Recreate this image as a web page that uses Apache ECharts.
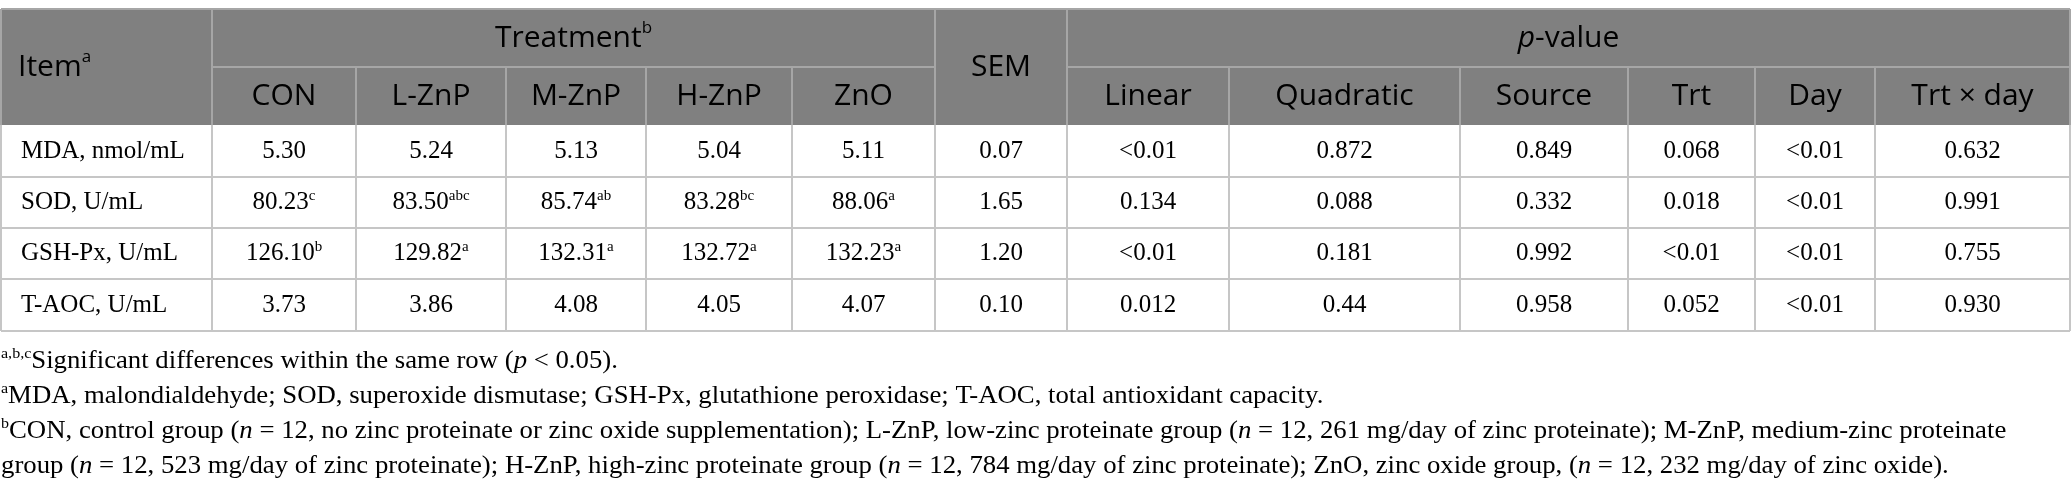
<!DOCTYPE html>
<html>
<head>
<meta charset="utf-8">
<title>Antioxidant indices table</title>
<script src="https://cdn.jsdelivr.net/npm/echarts@6/dist/echarts.min.js"></script>
<style>
  html, body { margin: 0; padding: 0; background: #fff; }
  #chart { width: 2071px; height: 500px; }
</style>
</head>
<body>
<div id="chart"></div>
<script>
// table content
const items = ['MDA, nmol/mL', 'SOD, U/mL', 'GSH-Px, U/mL', 'T-AOC, U/mL']
const treatments = ['CON', 'L-ZnP', 'M-ZnP', 'H-ZnP', 'ZnO']
const pHeaders = ['Linear', 'Quadratic', 'Source', 'Trt', 'Day', 'Trt × day']

const mdaValues = ['5.30', '5.24', '5.13', '5.04', '5.11']
const sodValues = ['80.23', '83.50', '85.74', '83.28', '88.06']
const gshValues = ['126.10', '129.82', '132.31', '132.72', '132.23']
const taocValues = ['3.73', '3.86', '4.08', '4.05', '4.07']

const mdaSup = ['', '', '', '', '']
const sodSup = ['c', 'abc', 'ab', 'bc', 'a']
const gshSup = ['b', 'a', 'a', 'a', 'a']
const taocSup = ['', '', '', '', '']

const semValues = ['0.07', '1.65', '1.20', '0.10']
const pLinear = ['<0.01', '0.134', '<0.01', '0.012']
const pQuadratic = ['0.872', '0.088', '0.181', '0.44']
const pSource = ['0.849', '0.332', '0.992', '0.958']
const pTrt = ['0.068', '0.018', '<0.01', '0.052']
const pDay = ['<0.01', '<0.01', '<0.01', '<0.01']
const pTrtDay = ['0.632', '0.991', '0.755', '0.930']

// layout
const colEdges = [1, 212, 356, 506, 646, 792, 935, 1067, 1229, 1460, 1628, 1755, 1875, 2070]
const rowEdges = [9, 67, 125, 177, 228, 279, 331]
const noteY = [361, 396, 431, 466]

const HEAD_BG = '#808080'
const HEAD_LINE = '#a6a6a6'
const BODY_LINE = '#c6c6c6'
const SANS = '"Open Sans", "Noto Sans", sans-serif'
const SERIF = '"Liberation Serif", "DejaVu Serif", serif'

const chart = echarts.init(document.getElementById('chart'), null, { renderer: 'canvas' })

const els = []

const line = (x1, y1, x2, y2, color) => {
    els.push({
        type: 'line',
        shape: { x1, y1, x2, y2 },
        style: { stroke: color, lineWidth: 2 },
        z: 5
    })
}

const headRich = {
    t: { fontFamily: SANS, fontSize: 30, color: '#fff', lineHeight: 36 },
    i: { fontFamily: SANS, fontSize: 30, color: '#fff', fontStyle: 'italic', lineHeight: 36 },
    s: { fontFamily: SANS, fontSize: 17, color: '#fff', verticalAlign: 'top', lineHeight: 18 }
}
const bodyRich = {
    t: { fontFamily: SERIF, fontSize: 25, color: '#231f20', lineHeight: 28 },
    s: { fontFamily: SERIF, fontSize: 15, color: '#231f20', verticalAlign: 'top', lineHeight: 14 }
}
const noteRich = {
    t: { fontFamily: SERIF, fontSize: 25, color: '#231f20', lineHeight: 28 },
    i: { fontFamily: SERIF, fontSize: 25, color: '#231f20', fontStyle: 'italic', lineHeight: 28 },
    s: { fontFamily: SERIF, fontSize: 15, color: '#231f20', verticalAlign: 'top', lineHeight: 14 }
}

const text = (x, y, str, rich, align, extra) => {
    els.push(Object.assign({
        type: 'text',
        x, y,
        style: { text: str, rich, align: align || 'center', verticalAlign: 'middle' },
        z: 10
    }, extra || {}))
}

const cx = (c) => (colEdges[c] + colEdges[c + 1]) / 2
const cy = (r) => (rowEdges[r] + rowEdges[r + 1]) / 2

// header background
els.push({
    type: 'rect',
    shape: { x: colEdges[0], y: rowEdges[0], width: colEdges[13] - colEdges[0], height: rowEdges[2] - rowEdges[0] },
    style: { fill: HEAD_BG },
    z: 1
})

// header text
text(18, (rowEdges[0] + rowEdges[2]) / 2, '{t|Item}{s|a}', headRich, 'left')
text((colEdges[1] + colEdges[6]) / 2, cy(0), '{t|Treatment}{s|b}', headRich)
text(cx(6), (rowEdges[0] + rowEdges[2]) / 2, '{t|SEM}', headRich)
text((colEdges[7] + colEdges[13]) / 2, cy(0), '{i|p}{t|-value}', headRich)
treatments.forEach((t, i) => text(cx(1 + i), cy(1), '{t|' + t + '}', headRich))
pHeaders.forEach((t, i) => text(cx(7 + i), cy(1), '{t|' + t + '}', headRich))

// header lines
line(colEdges[0], rowEdges[0], colEdges[13], rowEdges[0], HEAD_LINE)
line(colEdges[1], rowEdges[1], colEdges[6], rowEdges[1], HEAD_LINE)
line(colEdges[7], rowEdges[1], colEdges[13], rowEdges[1], HEAD_LINE)
;[1, 6, 7].forEach(c => line(colEdges[c], rowEdges[0], colEdges[c], rowEdges[2], HEAD_LINE))
;[2, 3, 4, 5, 8, 9, 10, 11, 12].forEach(c => line(colEdges[c], rowEdges[1], colEdges[c], rowEdges[2], HEAD_LINE))
line(colEdges[0], rowEdges[0], colEdges[0], rowEdges[2], HEAD_LINE)
line(colEdges[13], rowEdges[0], colEdges[13], rowEdges[2], HEAD_LINE)

// body
const treatValues = [mdaValues, sodValues, gshValues, taocValues]
const treatSups = [mdaSup, sodSup, gshSup, taocSup]
const pCols = [pLinear, pQuadratic, pSource, pTrt, pDay, pTrtDay]

items.forEach((name, r) => {
    const y = cy(2 + r)
    text(21, y, '{t|' + name + '}', bodyRich, 'left')
    treatValues[r].forEach((v, i) => {
        const sup = treatSups[r][i]
        text(cx(1 + i), y, '{t|' + v + '}' + (sup ? '{s|' + sup + '}' : ''), bodyRich)
    })
    text(cx(6), y, '{t|' + semValues[r] + '}', bodyRich)
    pCols.forEach((col, i) => text(cx(7 + i), y, '{t|' + col[r] + '}', bodyRich))
})

for (let r = 3; r < rowEdges.length; r++) {
    line(colEdges[0], rowEdges[r], colEdges[13], rowEdges[r], BODY_LINE)
}
colEdges.forEach(x => line(x, rowEdges[2], x, rowEdges[6], BODY_LINE))

// footnotes
const notes = [
    '{s|a,b,c}{t|Significant differences within the same row (}{i|p}{t| < 0.05).}',
    '{s|a}{t|MDA, malondialdehyde; SOD, superoxide dismutase; GSH-Px, glutathione peroxidase; T-AOC, total antioxidant capacity.}',
    '{s|b}{t|CON, control group (}{i|n}{t| = 12, no zinc proteinate or zinc oxide supplementation); L-ZnP, low-zinc proteinate group (}{i|n}{t| = 12, 261 mg/day of zinc proteinate); M-ZnP, medium-zinc proteinate}',
    '{t|group (}{i|n}{t| = 12, 523 mg/day of zinc proteinate); H-ZnP, high-zinc proteinate group (}{i|n}{t| = 12, 784 mg/day of zinc proteinate); ZnO, zinc oxide group, (}{i|n}{t| = 12, 232 mg/day of zinc oxide).}'
]
notes.forEach((n, i) => text(1, noteY[i], n, noteRich, 'left', { scaleX: 1.07 }))

chart.setOption({
    backgroundColor: '#fff',
    animation: false,
    graphic: { elements: els }
})

window.addEventListener('resize', () => chart.resize())
</script>
</body>
</html>
